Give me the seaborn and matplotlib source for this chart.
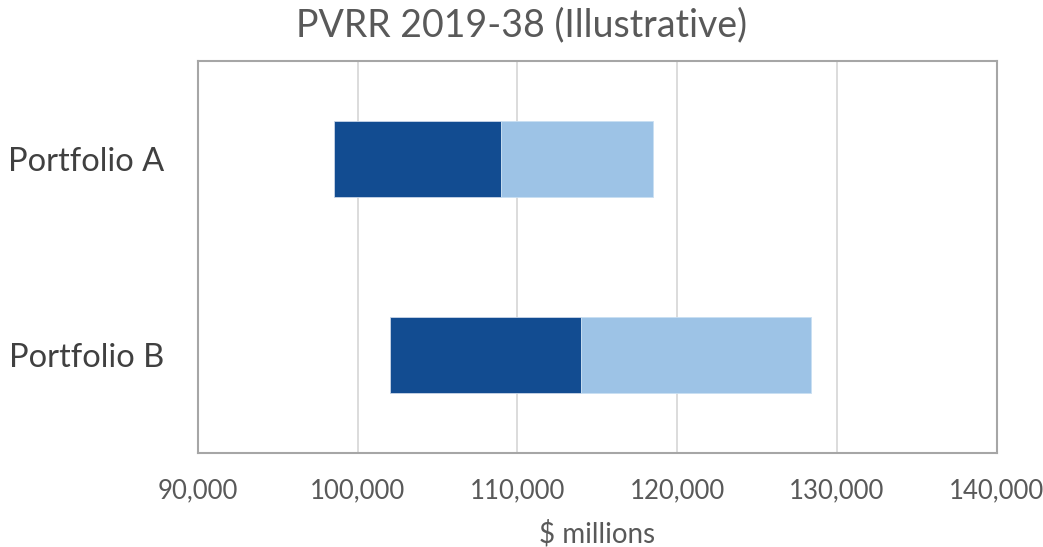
import numpy as np
import pandas as pd
import matplotlib
matplotlib.use("Agg")
import matplotlib.pyplot as plt
import seaborn as sns
from matplotlib.ticker import FuncFormatter

categories = ["Portfolio A", "Portfolio B"]
low = [98500, 102000]
mid = [109000, 114000]
high = [118500, 128400]
xticks = [90000, 100000, 110000, 120000, 130000, 140000]

sns.set_theme(style="white")
plt.rcParams["font.family"] = ["Lato", "DejaVu Sans"]

df = pd.DataFrame({
    "cat": categories,
    "dark": np.array(mid) - np.array(low),
    "light": np.array(high) - np.array(mid),
})

fig = plt.figure(figsize=(10.43, 5.47), dpi=100)
ax = fig.add_axes([198/1043, 1-453/547, (996.5-198)/1043, (453-61)/547])

sns.barplot(data=df, x="dark", y="cat", orient="h", color="#124C91", width=0.39,
            left=np.array(low), errorbar=None, ax=ax, saturation=1,
            edgecolor="#c9d6e8", linewidth=0.6, zorder=3)
sns.barplot(data=df, x="light", y="cat", orient="h", color="#9DC3E6", width=0.39,
            left=np.array(mid), errorbar=None, ax=ax, saturation=1,
            edgecolor="#c9dff2", linewidth=0.6, zorder=3)

ax.set_xlim(xticks[0], xticks[-1])
ax.set_xticks(xticks)
ax.xaxis.set_major_formatter(FuncFormatter(lambda v, p: f"{int(v):,}"))
ax.grid(axis="x", color="#D9D9D9", linewidth=1.3, zorder=0)
ax.set_axisbelow(True)
for s in ax.spines.values():
    s.set_visible(True)
    s.set_color("#A6A6A6")
    s.set_linewidth(1.5)

ax.tick_params(axis="x", length=0, pad=18, labelsize=18.5, labelcolor="#595959")
ax.tick_params(axis="y", length=0, pad=24, labelsize=23.5, labelcolor="#404040")
ax.set_ylabel("")
ax.set_xlabel("$ millions", fontsize=20, color="#595959", labelpad=12)
ax.set_title("PVRR 2019-38 (Illustrative)", fontsize=27, color="#595959", pad=18,
             x=(521.5-198)/798.5)

fig.savefig("out.png", dpi=100, facecolor="white")
